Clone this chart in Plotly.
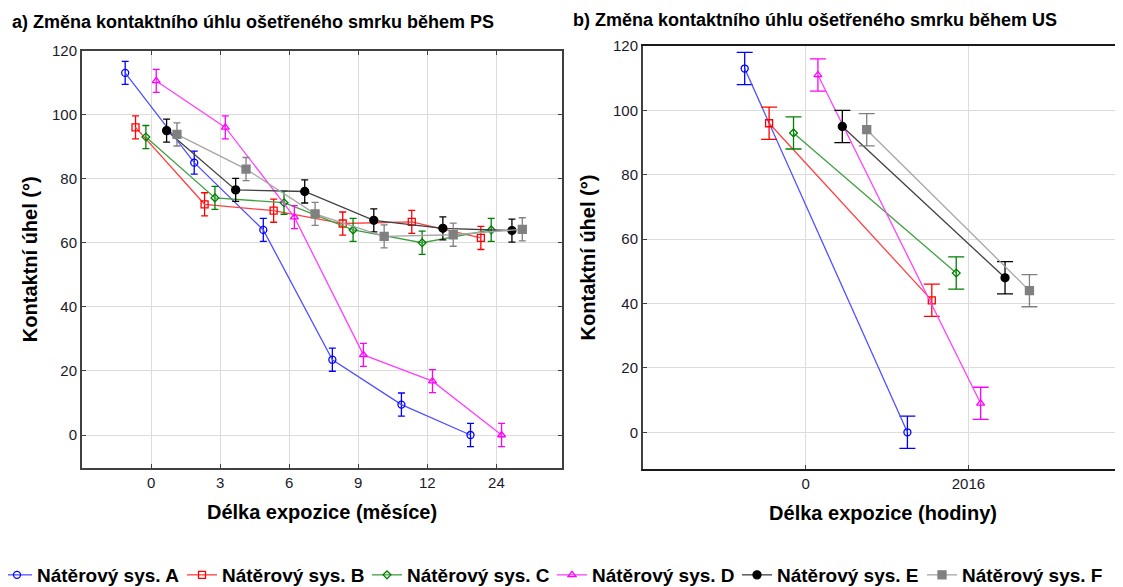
import plotly.graph_objects as go

# ---- data ----
cats_ps = ["0", "3", "6", "9", "12", "24"]
cats_us = ["0", "2016"]
series_names = ["Nátěrový sys. A", "Nátěrový sys. B", "Nátěrový sys. C",
                "Nátěrový sys. D", "Nátěrový sys. E", "Nátěrový sys. F"]

ps_A = [113, 85, 64, 23.5, 9.5, 0]
ps_B = [96, 72, 70, 66, 66.5, 61.5]
ps_C = [93, 74, 72.5, 64, 60, 64]
ps_D = [110.5, 96, 68, 25, 16.8, 0]
ps_E = [95, 76.5, 76, 67, 64.5, 63.8]
ps_F = [93.8, 83, 69, 62, 62.5, 64.2]
ps_err = [3.6, 3.6, 3.6, 3.6, 3.6, 3.6]

us_A = [113, 0]
us_B = [96, 41]
us_C = [93, 49.5]
us_D = [111, 9]
us_E = [95, 48]
us_F = [94, 44]
us_err = [5, 5]

y_ticks = [0, 20, 40, 60, 80, 100, 120]

ps_data = [ps_A, ps_B, ps_C, ps_D, ps_E, ps_F]
us_data = [us_A, us_B, us_C, us_D, us_E, us_F]

# ---- styles ----
marker_colors = ["#0000ff", "#ff0000", "#008000", "#ff00ff", "#000000", "#808080"]
line_colors = ["#5050ff", "#ff4040", "#40a040", "#ff40ff", "#404040", "#a6a6a6"]
symbols = ["circle-open", "square-open", "diamond-open", "triangle-up-open", "circle", "square"]
sizes_a = [7, 7, 6, 7, 8, 8]
sizes_b = [7, 7, 6, 7, 8, 8]

fig = go.Figure()

for i, name in enumerate(series_names):
    fig.add_trace(go.Scatter(
        x=cats_ps, y=ps_data[i], name="<b>" + name + "</b>", mode="lines+markers",
        offsetgroup=str(i), legendgroup=name,
        line=dict(color=line_colors[i], width=1.3),
        marker=dict(symbol=symbols[i], size=sizes_a[i], color=marker_colors[i],
                    line=dict(color=marker_colors[i], width=1.3)),
        error_y=dict(type="data", array=ps_err, color=marker_colors[i], thickness=1.3, width=3.5),
        xaxis="x", yaxis="y", showlegend=True,
    ))

for i, name in enumerate(series_names):
    fig.add_trace(go.Scatter(
        x=cats_us, y=us_data[i], name=name, mode="lines+markers",
        offsetgroup=str(i), legendgroup=name,
        line=dict(color=line_colors[i], width=1.3),
        marker=dict(symbol=symbols[i], size=sizes_b[i], color=marker_colors[i],
                    line=dict(color=marker_colors[i], width=1.3)),
        error_y=dict(type="data", array=us_err, color=marker_colors[i], thickness=1.3, width=8),
        xaxis="x2", yaxis="y2", showlegend=False,
    ))

# the page body adds an 8px offset; figure coordinates = screen coordinates - 8
OFF = 8
W, H = 1123 - OFF, 587 - OFF


def px(x):
    return (x - OFF) / W


def py(y):
    return 1 - (y - OFF) / H


tickfont = dict(family="Liberation Sans, Arial", size=15, color="#1a1a2a")
titlefont = dict(family="Liberation Sans, Arial", size=20, color="#000000")

common_x = dict(type="category", showgrid=True, gridcolor="#dcdcdc", gridwidth=1,
                ticks="inside", ticklen=4, tickcolor="#404040", tickfont=tickfont,
                zeroline=False, linecolor="#404040", linewidth=2, automargin=False)
common_y = dict(showgrid=True, gridcolor="#dcdcdc", gridwidth=1, tickvals=y_ticks,
                ticks="inside", ticklen=4, tickcolor="#404040", tickfont=tickfont,
                zeroline=False, linecolor="#404040", linewidth=2, automargin=False)

fig.update_layout(
    template="none",
    width=W, height=H,
    margin=dict(l=0, r=0, t=0, b=0, autoexpand=False),
    paper_bgcolor="white", plot_bgcolor="white",
    scattermode="group", scattergap=0.1,
    xaxis=dict(common_x, domain=[px(82), px(562)], range=[-1, 5.95],
               categoryorder="array", categoryarray=cats_ps, mirror="ticks",
               title=dict(text="<b>Délka expozice (měsíce)</b>", font=titlefont, standoff=15),
               anchor="y"),
    yaxis=dict(common_y, domain=[py(468), py(50.5)], range=[-10.3, 120],
               mirror="ticks",
               title=dict(text="<b>Kontaktní úhel (°)</b>", font=titlefont, standoff=9),
               anchor="x"),
    xaxis2=dict(common_x, domain=[px(643), 1.0], range=[-1, 1.95],
                categoryorder="array", categoryarray=cats_us, mirror=True,
                linecolor="#1a1a1a",
                title=dict(text="<b>Délka expozice (hodiny)</b>", font=titlefont, standoff=15),
                anchor="y2"),
    yaxis2=dict(common_y, domain=[py(469), py(46)], range=[-11.4, 120],
                title=dict(text="<b>Kontaktní úhel (°)</b>", font=titlefont, standoff=12),
                anchor="x2"),
    legend=dict(orientation="h", x=-11 / W, y=-7 / H, xanchor="left", yanchor="bottom",
                font=dict(family="Liberation Sans, Arial", size=19, color="#000000"),
                itemwidth=30, entrywidth=140, tracegroupgap=0, bgcolor="rgba(0,0,0,0)"),
    annotations=[
        dict(text="<b>a) Změna kontaktního úhlu ošetřeného smrku během PS</b>",
             x=px(10), y=py(22), xref="paper", yref="paper", xanchor="left", yanchor="middle",
             showarrow=False, font=dict(family="Liberation Sans, Arial", size=18, color="#000000")),
        dict(text="<b>b) Změna kontaktního úhlu ošetřeného smrku během US</b>",
             x=px(571), y=py(20), xref="paper", yref="paper", xanchor="left", yanchor="middle",
             showarrow=False, font=dict(family="Liberation Sans, Arial", size=18, color="#000000")),
    ],
)

fig.write_html("out.html")
